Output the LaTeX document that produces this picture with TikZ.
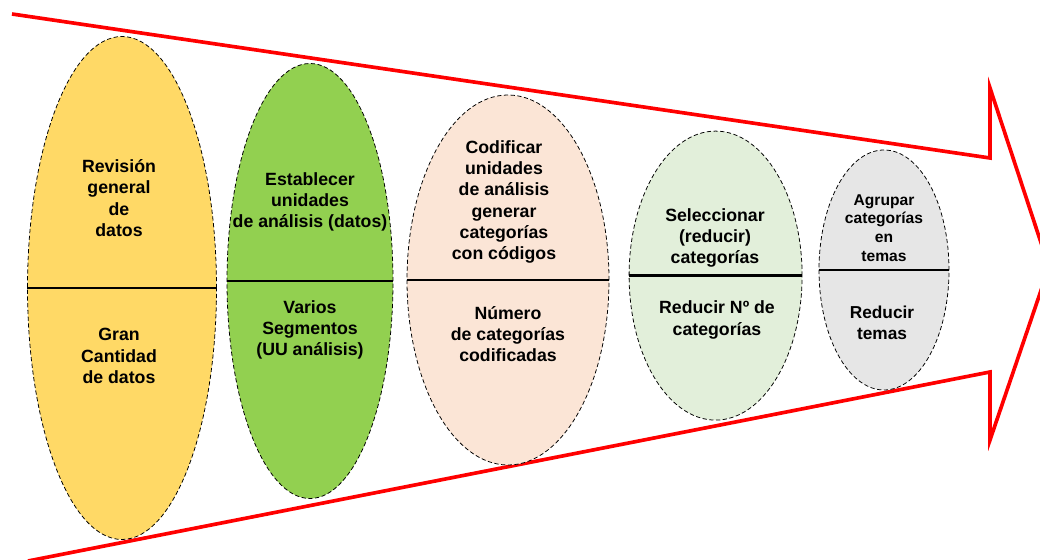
\documentclass[tikz,border=0pt]{standalone}
\usepackage{fontspec}
\setmainfont{Liberation Sans}
\usetikzlibrary{shapes.geometric}
\definecolor{amarillo}{HTML}{FFD966}
\definecolor{verde}{HTML}{92D050}
\definecolor{salmon}{HTML}{FBE5D6}
\definecolor{verdeclaro}{HTML}{E2EFDA}
\definecolor{gris}{HTML}{E6E6E6}
\tikzset{
  fase/.style={draw,ellipse,dashed,dash pattern=on 3pt off 1.8pt,line width=0.55pt,inner sep=0pt},
  texto/.style={align=center,font=\bfseries\fontsize{12.6}{15.2}\selectfont},
  divisor/.style={line width=2.1pt}
}
\begin{document}
\begin{tikzpicture}
\useasboundingbox (0,0) rectangle (26,14);
% flecha roja
\draw[red,line width=2.6pt,miter limit=20] (0.3,13.65) -- (24.75,10.05) -- (24.75,11.8) -- (26.225,7.325) -- (24.75,3.0) -- (24.75,4.7) -- (0.7,-0.025);
% fases
\node[fase,fill=amarillo,minimum width=4.725cm,minimum height=12.575cm] (E1) at (3.05,6.8) {};
\node[fase,fill=verde,minimum width=4.15cm,minimum height=10.875cm] (E2) at (7.75,6.975) {};
\node[fase,fill=salmon,minimum width=5.05cm,minimum height=9.25cm] (E3) at (12.7,7.0) {};
\node[fase,fill=verdeclaro,minimum width=4.325cm,minimum height=7.225cm] (E4) at (17.89,7.11) {};
\node[fase,fill=gris,minimum width=3.25cm,minimum height=6.0cm] (E5) at (22.1,7.25) {};
\draw[divisor] (E1.west) -- (E1.east);
\draw[divisor] (E2.west) -- (E2.east);
\draw[divisor] (E3.west) -- (E3.east);
\draw[divisor] (E4.west) -- (E4.east);
\draw[divisor] (E5.west) -- (E5.east);
% textos
\node[texto] (T1a) at (2.975,9.05) {Revisión\\general\\de\\datos};
\node[texto] (T1b) at (2.975,5.1) {Gran\\Cantidad\\de datos};
\node[texto] (T2a) at (7.75,8.95) {Establecer\\unidades\\de análisis (datos)};
\node[texto] (T2b) at (7.75,5.75) {Varios\\Segmentos\\(UU análisis)};
\node[texto] (T3a) at (12.6,8.95) {Codificar\\unidades\\de análisis\\generar\\categorías\\con códigos};
\node[texto] (T3b) at (12.7,5.65) {Número\\de categorías\\codificadas};
\node[texto] (T4a) at (17.875,8.05) {Seleccionar\\(reducir)\\categorías};
\node[texto] (T4b) at (17.925,6.0) {Reducir Nº de\\categorías};
\node[texto,font=\bfseries\fontsize{11.1}{13.4}\selectfont] (T5a) at (22.1,8.3) {Agrupar\\categorías\\en\\temas};
\node[texto,font=\bfseries\fontsize{12.3}{14.6}\selectfont] (T5b) at (22.05,5.93) {Reducir\\temas};
\end{tikzpicture}
\end{document}
